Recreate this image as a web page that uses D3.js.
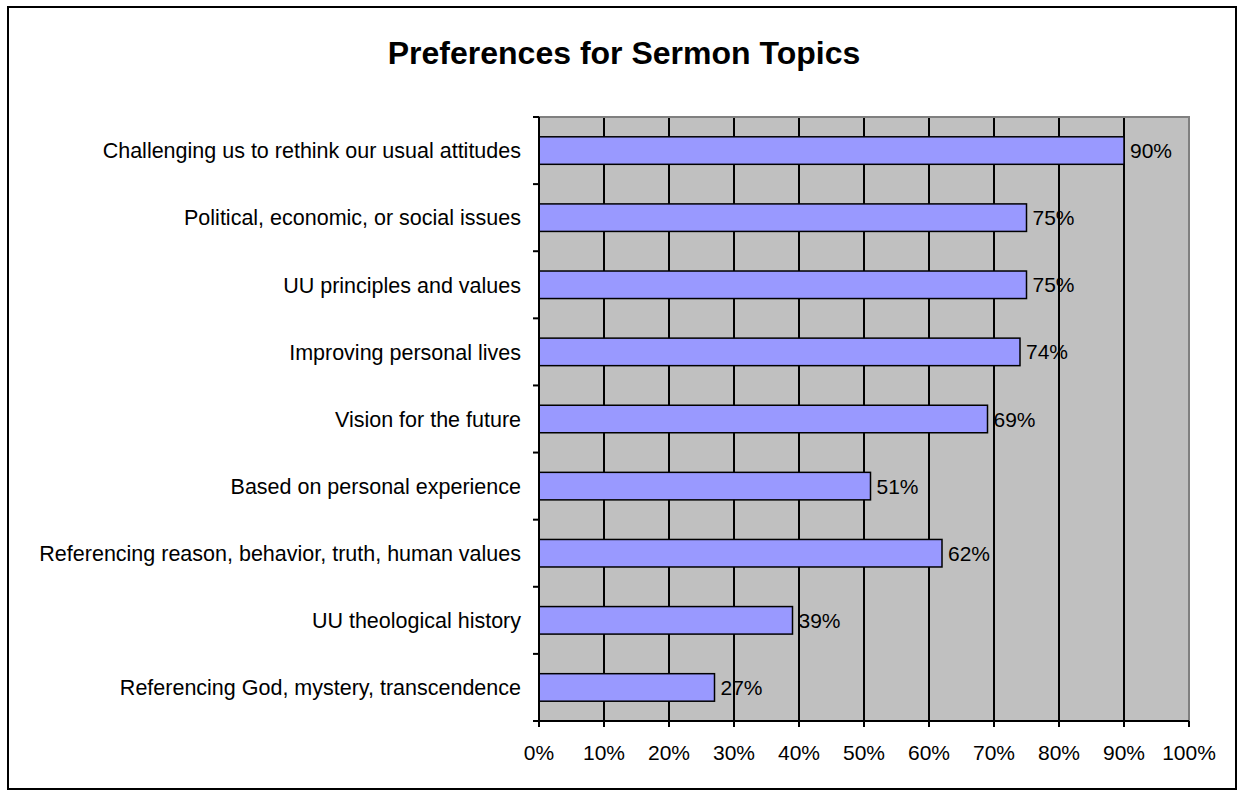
<!DOCTYPE html>
<html><head><meta charset="utf-8">
<script src="https://cdn.jsdelivr.net/npm/d3@7"></script>
<style>body{margin:0;background:#fff}svg{display:block;font-family:"Liberation Sans",Arial,sans-serif}</style>
</head><body>
<svg id="c" width="1240" height="791"></svg>
<script>
const categories = [
  "Challenging us to rethink our usual attitudes",
  "Political, economic, or social issues",
  "UU principles and values",
  "Improving personal lives",
  "Vision for the future",
  "Based on personal experience",
  "Referencing reason, behavior, truth, human values",
  "UU theological history",
  "Referencing God, mystery, transcendence"
];
const values = [0.90, 0.75, 0.75, 0.74, 0.69, 0.51, 0.62, 0.39, 0.27];
const xTicks = [0,0.1,0.2,0.3,0.4,0.5,0.6,0.7,0.8,0.9,1.0];
const title = "Preferences for Sermon Topics";

const svg = d3.select("#c");
const L = 539, R = 1189, T = 117, B = 721;

svg.append("rect").attr("x",8).attr("y",7).attr("width",1228).attr("height",782)
  .attr("fill","#fff").attr("stroke","#000").attr("stroke-width",2);

svg.append("text").attr("x",624).attr("y",64).attr("text-anchor","middle")
  .attr("font-size",32).attr("font-weight","bold").text(title);

const x = d3.scaleLinear().domain([0,1]).range([L,R]);
const y = d3.scaleBand().domain(categories).range([T,B]).paddingInner(0.59).paddingOuter(0.295);
const yb = d3.scaleBand().domain(categories).range([T,B]);

svg.append("rect").attr("x",L).attr("y",T).attr("width",R-L).attr("height",B-T).attr("fill","#c0c0c0");
// grid
svg.append("g").selectAll("line").data(xTicks.slice(1,-1)).join("line")
  .attr("x1",d=>x(d)).attr("x2",d=>x(d)).attr("y1",T).attr("y2",B)
  .attr("stroke","#000").attr("stroke-width",2);
// plot border top/right
svg.append("path").attr("d",`M${L},${T}H${R}V${B}`).attr("fill","none").attr("stroke","#808080").attr("stroke-width",2);

// bars
svg.append("g").selectAll("rect").data(categories).join("rect")
  .attr("x",L).attr("y",d=>y(d)).attr("width",(d,i)=>x(values[i])-L).attr("height",y.bandwidth())
  .attr("fill","#9999ff").attr("stroke","#000").attr("stroke-width",1.5);

// value labels
svg.append("g").selectAll("text").data(categories).join("text")
  .attr("x",(d,i)=>x(values[i])+6).attr("y",d=>y(d)+y.bandwidth()/2).attr("dy","0.36em")
  .attr("font-size",21).text((d,i)=>Math.round(values[i]*100)+"%");

// y axis
const yAxisG = svg.append("g");
yAxisG.append("line").attr("x1",L).attr("x2",L).attr("y1",T).attr("y2",B+5).attr("stroke","#000").attr("stroke-width",2);
const bounds = categories.map(c=>yb(c)).concat([B]);
yAxisG.selectAll("line.t").data(bounds).join("line").attr("class","t")
  .attr("x1",L-6).attr("x2",L).attr("y1",d=>d).attr("y2",d=>d).attr("stroke","#000").attr("stroke-width",2);
yAxisG.selectAll("text").data(categories).join("text")
  .attr("x",L-18).attr("y",d=>yb(d)+yb.bandwidth()/2).attr("dy","0.36em").attr("text-anchor","end")
  .attr("font-size",21.5).text(d=>d);

// x axis
const xAxisG = svg.append("g");
xAxisG.append("line").attr("x1",L-6).attr("x2",R).attr("y1",B).attr("y2",B).attr("stroke","#000").attr("stroke-width",2);
xAxisG.selectAll("line.t").data(xTicks).join("line").attr("class","t")
  .attr("x1",d=>x(d)).attr("x2",d=>x(d)).attr("y1",B).attr("y2",B+6).attr("stroke","#000").attr("stroke-width",2);
xAxisG.selectAll("text").data(xTicks).join("text")
  .attr("x",d=>x(d)).attr("y",760).attr("text-anchor","middle").attr("font-size",21)
  .text(d=>d3.format(".0%")(d));
</script>
</body></html>
